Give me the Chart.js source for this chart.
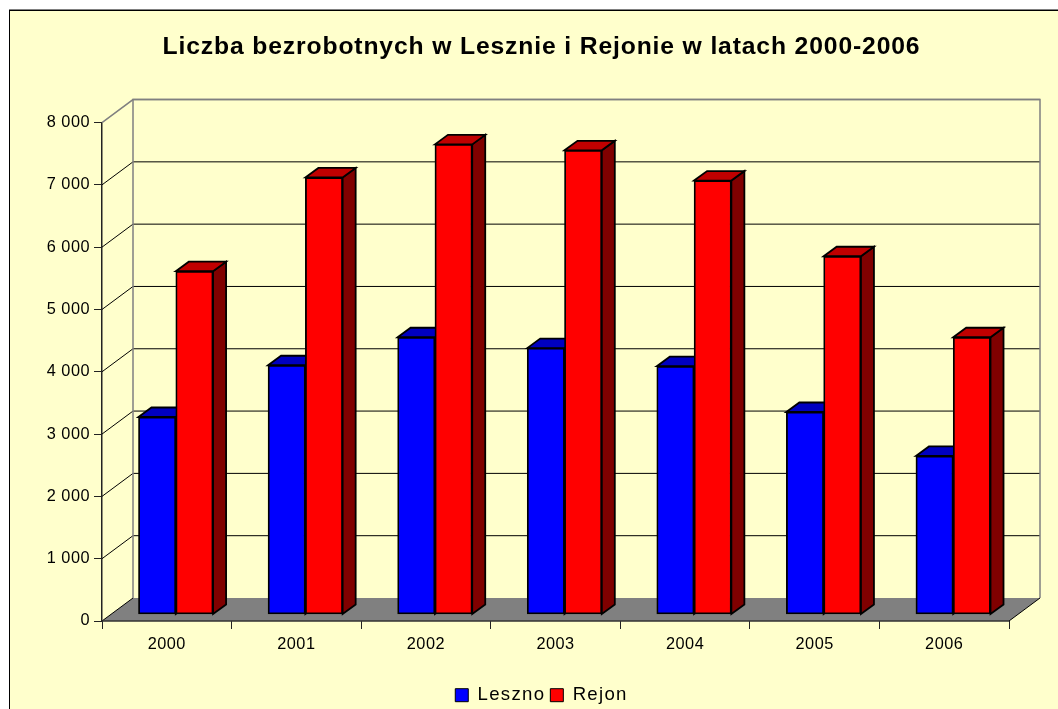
<!DOCTYPE html>
<html><head><meta charset="utf-8">
<script src="https://cdn.jsdelivr.net/npm/chart.js@4"></script>
<style>
html,body{margin:0;padding:0;background:#fff;overflow:hidden}
#frame{position:absolute;left:9px;top:10px;width:1100px;height:760px;background:#FFFFCC;border:1px solid #000;box-shadow:0 -1px 0 #808080}
#wrap{position:absolute;left:25px;top:0;width:1033px;height:715px}
</style></head><body>
<div id="frame"></div>
<div id="wrap"><canvas id="c" width="1033" height="715"></canvas></div>
<script>
const categories = ['2000','2001','2002','2003','2004','2005','2006'];
const leszno = [3170,4000,4450,4275,3985,3250,2545];
const rejon  = [5510,7015,7545,7450,6965,5750,4450];
const yTicks = [0,1000,2000,3000,4000,5000,6000,7000,8000];
const titleText = 'Liczba bezrobotnych w Lesznie i Rejonie w latach 2000-2006';
const seriesNames = ['Leszno','Rejon'];
const seriesColors = ['#0000FF','#FF0000'];
const topColors = ['#0000C0','#C00000'];
const sideColors = ['#000080','#800000'];

const WALL = {dx:31, dy:-23};
const BAR_SHIFT = {dx:9, dy:-6.5};
const BAR_DEPTH = {dx:13, dy:-9.5};

function spaced(obj,method,ctx,sp){
  if(!obj||obj['__'+method]) return;
  const orig=obj[method];
  obj['__'+method]=true;
  obj[method]=function(...a){
    const prev=ctx.letterSpacing;
    ctx.letterSpacing=sp;
    const r=orig.apply(this,a);
    ctx.letterSpacing=prev;
    return r;
  };
}

const spacingPlugin = {
  id:'spacing',
  beforeLayout(chart){
    spaced(chart.legend,'fit',chart.ctx,'1.3px');
    spaced(chart.legend,'draw',chart.ctx,'1.3px');
    spaced(chart.titleBlock,'draw',chart.ctx,'0.86px');
  },
  beforeDraw(chart){ chart.ctx.letterSpacing='0.5px'; }
};

const depthPlugin = {
  id:'depth',
  beforeDatasetsDraw(chart){
    const {ctx, chartArea:a, scales:{y}} = chart;
    const d = WALL;
    ctx.save();
    ctx.fillStyle='#808080';
    ctx.beginPath();
    ctx.moveTo(a.left,a.bottom);
    ctx.lineTo(a.left+d.dx,a.bottom+d.dy);
    ctx.lineTo(a.right+d.dx,a.bottom+d.dy);
    ctx.lineTo(a.right,a.bottom);
    ctx.closePath(); ctx.fill();
    yTicks.forEach(v=>{
      const py=y.getPixelForValue(v);
      const top=v===yTicks[yTicks.length-1];
      ctx.strokeStyle= top?'#808080':'#000';
      ctx.lineWidth= top?1.5:1;
      ctx.beginPath();
      ctx.moveTo(a.left,py);
      ctx.lineTo(a.left+d.dx,py+d.dy);
      if(v!==0) ctx.lineTo(a.right+d.dx,py+d.dy);
      ctx.stroke();
    });
    const topY=y.getPixelForValue(yTicks[yTicks.length-1])+d.dy, botY=a.bottom+d.dy;
    ctx.strokeStyle='#808080'; ctx.lineWidth=1.5;
    ctx.beginPath();
    ctx.moveTo(a.left+d.dx,botY); ctx.lineTo(a.left+d.dx,topY); ctx.lineTo(a.right+d.dx,topY); ctx.lineTo(a.right+d.dx,botY);
    ctx.stroke();
    ctx.strokeStyle='#000'; ctx.lineWidth=1;
    ctx.beginPath(); ctx.moveTo(a.right,a.bottom); ctx.lineTo(a.right+d.dx,botY); ctx.stroke();
    ctx.strokeStyle='#333'; ctx.lineWidth=1.5;
    ctx.beginPath(); ctx.moveTo(a.left,a.bottom); ctx.lineTo(a.right,a.bottom); ctx.stroke();
    ctx.translate(BAR_SHIFT.dx,BAR_SHIFT.dy);
    ctx.strokeStyle='#000'; ctx.lineWidth=1.8; ctx.lineJoin='miter';
    chart.data.datasets.forEach((ds,i)=>{
      chart.getDatasetMeta(i).data.forEach(el=>{
        const r=el.x+el.width/2, l=el.x-el.width/2, t=el.y, b=el.base;
        const q=BAR_DEPTH;
        ctx.fillStyle=sideColors[i];
        ctx.beginPath();
        ctx.moveTo(r,t); ctx.lineTo(r+q.dx,t+q.dy); ctx.lineTo(r+q.dx,b+q.dy); ctx.lineTo(r,b);
        ctx.closePath(); ctx.fill(); ctx.stroke();
        ctx.fillStyle=topColors[i];
        ctx.beginPath();
        ctx.moveTo(l,t); ctx.lineTo(l+q.dx,t+q.dy); ctx.lineTo(r+q.dx,t+q.dy); ctx.lineTo(r,t);
        ctx.closePath(); ctx.fill(); ctx.stroke();
      });
    });
    ctx.restore();
    ctx.save();
    ctx.translate(BAR_SHIFT.dx,BAR_SHIFT.dy);
  },
  afterDatasetsDraw(chart){ chart.ctx.restore(); }
};

const FONT='"Liberation Sans", Arial, sans-serif';
new Chart(document.getElementById('c'),{
  type:'bar',
  data:{labels:categories,datasets:[
    {label:seriesNames[0],data:leszno,backgroundColor:seriesColors[0]},
    {label:seriesNames[1],data:rejon,backgroundColor:seriesColors[1]}
  ].map(d=>({...d,borderColor:'#000',borderWidth:1.8,borderSkipped:false,barThickness:37.3,clip:false}))},
  options:{
    responsive:false,animation:false,
    layout:{padding:{left:0,right:0,top:0,bottom:0.5}},
    plugins:{
      tooltip:{enabled:false},
      title:{display:true,text:titleText,color:'#000',
        font:{family:FONT,size:24.7,weight:'bold',lineHeight:1.2},
        padding:{top:32,bottom:60.9}},
      legend:{position:'bottom',
        labels:{color:'#000',font:{family:FONT,size:18.6,lineHeight:1},boxWidth:13,boxHeight:13,padding:5,
          generateLabels(ch){return ch.data.datasets.map((d,i)=>({text:d.label,fillStyle:d.backgroundColor,strokeStyle:'#000',lineWidth:1,datasetIndex:i,fontColor:'#000'}));}}}
    },
    scales:{
      x:{grid:{drawOnChartArea:false,drawTicks:true,tickLength:8,color:'#222',tickWidth:1},
        border:{display:false},
        ticks:{color:'#000',font:{family:FONT,size:16.3},padding:6,maxRotation:0},
        afterFit(s){s.height=59.9;}},
      y:{min:0,max:8000,
        afterBuildTicks(s){s.ticks=yTicks.map(v=>({value:v}));},
        grid:{drawOnChartArea:false,tickLength:8,color:'#222'},
        border:{display:true,color:'#222',width:1.5},
        ticks:{color:'#000',font:{family:FONT,size:16.3},padding:4,
          callback:v=>String(v).replace(/\B(?=(\d{3})+$)/g,' ')},
        afterFit(s){s.width=77;}},
      spacer:{type:'linear',position:'right',display:true,
        grid:{display:false},border:{display:false},ticks:{display:false},
        afterFit(s){s.width=49;}}
    }
  },
  plugins:[spacingPlugin,depthPlugin]
});
</script>
</body></html>
